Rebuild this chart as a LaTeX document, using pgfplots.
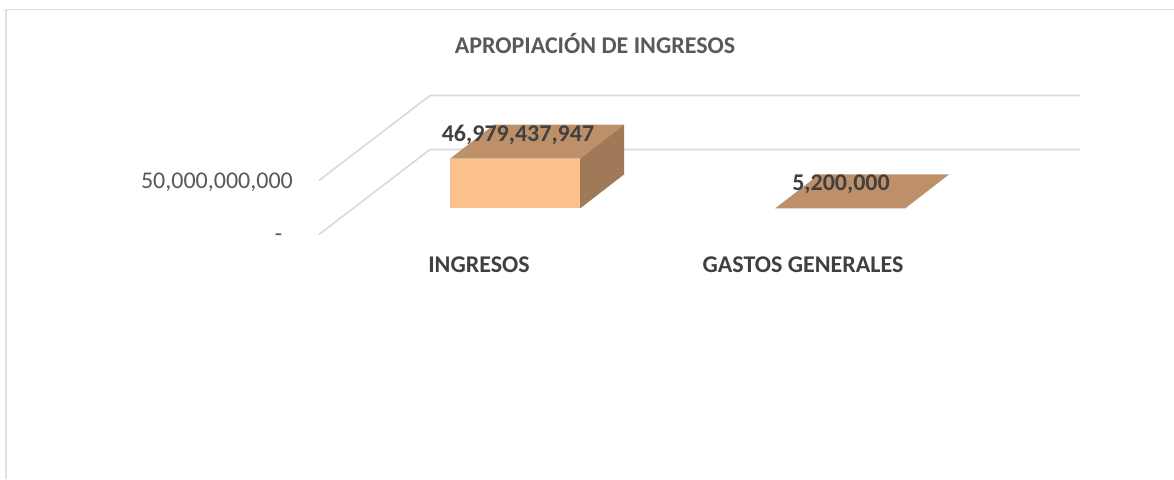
\documentclass[border=0pt]{standalone}
\usepackage{pgfplots}
\pgfplotsset{compat=1.18}
\usepackage{fontspec}
\setmainfont{Carlito}
\definecolor{frontface}{HTML}{FBC08C}
\definecolor{topface}{HTML}{BE9069}
\definecolor{sideface}{HTML}{A07A58}
\definecolor{gridgray}{HTML}{D9D9D9}
\definecolor{framegray}{HTML}{E0E0E0}
\definecolor{titlegray}{HTML}{595959}
\definecolor{labelgray}{HTML}{404040}
\tikzset{
  lab/.style={font=\fontsize{24}{24}\selectfont\bfseries, text=labelgray, anchor=center, inner sep=0pt},
  ticklab/.style={font=\fontsize{24}{24}\selectfont, text=titlegray, anchor=east, inner sep=0pt},
  catlab/.style={font=\fontsize{24}{24}\selectfont\bfseries, text=labelgray, inner sep=0pt},
}
\begin{document}
\begin{tikzpicture}
\begin{axis}[
  scale only axis,
  width=1174pt, height=479pt,
  axis lines=none,
  xmin=-1.5846, xmax=2.0277,
  ymin=-255.19e9, ymax=196.70e9,
]
% keep the whole axis area in the page
\path (rel axis cs:0,0) rectangle (rel axis cs:1,1);
% chart frame, top and left edge only
\addplot[framegray, line width=1.2pt, mark=none] coordinates {(2.0277,187.74e9) (-1.5662,187.74e9)};
\addplot[framegray, line width=2pt, mark=none] coordinates {(-1.5662,187.74e9) (-1.5662,-255.19e9)};
% gridlines: floor/0 and 50,000,000,000, running back along the side wall
\addplot[gridgray, line width=1.6pt, mark=none] coordinates {(-0.6031,-24.528e9) (-0.2615,55.660e9) (1.7385,55.660e9)};
\addplot[gridgray, line width=1.6pt, mark=none] coordinates {(-0.6031,26.415e9) (-0.2615,106.604e9) (1.7385,106.604e9)};
% INGRESOS
\addplot[ybar, bar width=0.4, bar shift=0pt, fill=frontface, draw=none] coordinates {(0,46979437947)};
\addplot[fill=topface, draw=none, mark=none] coordinates {(-0.2,46979437947) (0.2,46979437947) (0.3354,79054437947) (-0.0646,79054437947)} -- cycle;
\addplot[fill=sideface, draw=none, mark=none] coordinates {(0.2,0) (0.3354,32075000000) (0.3354,79054437947) (0.2,46979437947)} -- cycle;
% GASTOS GENERALES
\addplot[ybar, bar width=0.4, bar shift=0pt, fill=frontface, draw=none] coordinates {(1,5200000)};
\addplot[fill=topface, draw=none, mark=none] coordinates {(0.8,5200000) (1.2,5200000) (1.3354,32080200000) (0.9354,32080200000)} -- cycle;
% texts
\node[font=\fontsize{24}{24}\selectfont\bfseries, text=titlegray, inner sep=0pt] at (axis cs:0.2462,156.1e9) {APROPIACIÓN DE INGRESOS};
\node[lab] at (axis cs:0.0092,69.4e9) {46,979,437,947};
\node[lab] at (axis cs:1.0031,23.2e9) {5,200,000};
\node[ticklab] at (axis cs:-0.6831,24.5e9) {50,000,000,000};
\node[ticklab] at (axis cs:-0.7154,-27.3e9) {-};
\node[catlab] at (axis cs:-0.1108,-53.3e9) {INGRESOS};
\node[catlab] at (axis cs:0.8862,-53.3e9) {GASTOS GENERALES};
\end{axis}
\end{tikzpicture}
\end{document}
